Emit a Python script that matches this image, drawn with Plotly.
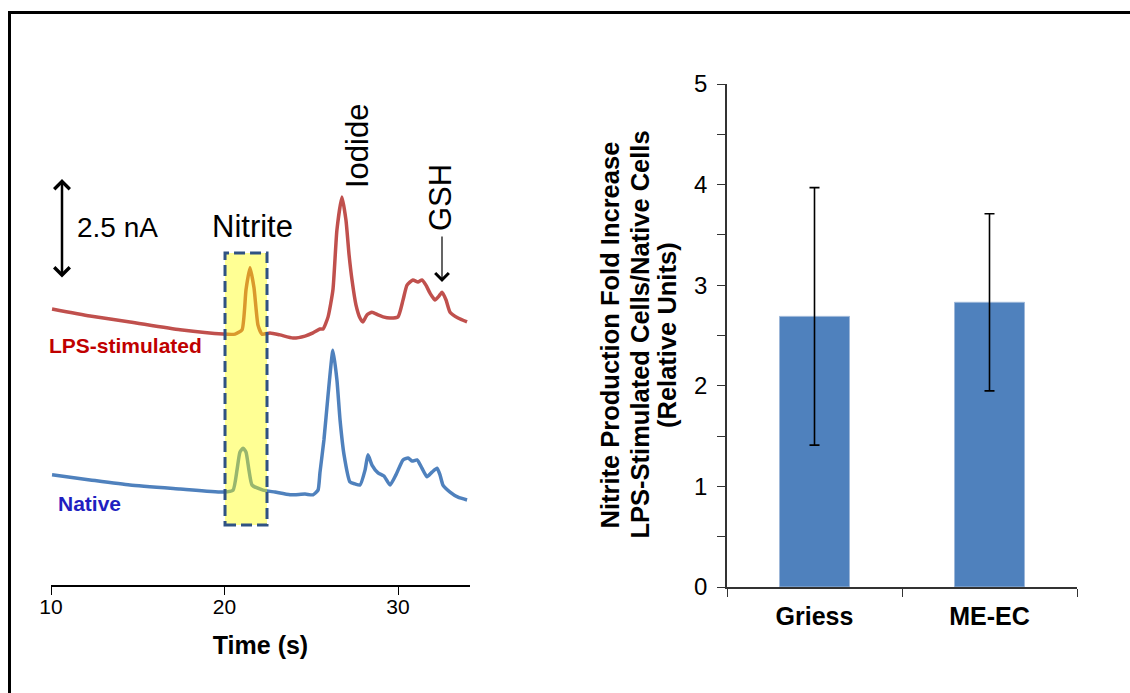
import plotly.graph_objects as go

W, H = 1130, 693

# ---------------- data ----------------
time_lps = [10.06, 12.25, 14.55, 17.44, 19.91, 20.61, 21.01, 21.24, 21.47, 21.70, 21.93, 22.16,
            22.62, 23.20, 23.95, 24.64, 25.10, 25.50, 25.68, 25.97, 26.25, 26.48, 26.77, 27.00,
            27.18, 27.35, 27.58, 27.81, 27.98, 28.21, 28.50, 28.85, 29.14, 29.54, 30.00, 30.29,
            30.52, 30.86, 31.15, 31.38, 31.61, 31.84, 32.13, 32.36, 32.54, 32.77, 33.00, 33.46, 33.98]
current_lps = [7.04, 6.86, 6.71, 6.51, 6.40, 6.40, 6.51, 7.53, 8.09, 7.58, 6.63, 6.40,
               6.43, 6.38, 6.30, 6.35, 6.43, 6.53, 6.53, 6.84, 7.53, 9.06, 9.90, 9.31,
               8.42, 7.78, 7.14, 6.81, 6.71, 6.89, 6.96, 6.89, 6.84, 6.81, 6.84, 7.27,
               7.65, 7.78, 7.73, 7.78, 7.65, 7.45, 7.27, 7.37, 7.47, 7.27, 6.96, 6.81, 6.71]

time_native = [10.06, 12.25, 14.55, 17.44, 19.91, 20.49, 20.72, 20.89, 21.07, 21.24, 21.41, 21.59,
               22.22, 22.91, 23.78, 24.64, 25.10, 25.39, 25.50, 25.73, 25.97, 26.25, 26.48, 26.66,
               26.89, 27.23, 27.52, 27.81, 28.10, 28.27, 28.50, 28.85, 29.19, 29.54, 29.88, 30.29,
               30.58, 30.81, 31.10, 31.38, 31.67, 31.96, 32.25, 32.42, 32.59, 33.00, 33.46, 33.98]
current_native = [2.81, 2.68, 2.55, 2.45, 2.37, 2.42, 2.93, 3.39, 3.49, 3.39, 2.93, 2.55,
                  2.42, 2.37, 2.30, 2.32, 2.30, 2.42, 2.86, 3.70, 4.85, 5.99, 5.23, 4.21,
                  3.32, 2.63, 2.58, 2.55, 2.93, 3.32, 3.06, 2.86, 2.78, 2.55, 2.81, 3.19,
                  3.24, 3.16, 3.19, 2.98, 2.76, 2.88, 2.98, 2.81, 2.55, 2.37, 2.24, 2.17]

nitrite_window = [20.03, 22.45]      # s
nitrite_window_y = [1.53, 8.47]      # nA

time_ticks = [10, 20, 30]

methods = ["Griess", "ME-EC"]
fold_increase = [2.69, 2.83]
fold_error = [1.28, 0.88]

fold_ticks = [0, 0.5, 1, 1.5, 2, 2.5, 3, 3.5, 4, 4.5, 5]
fold_ticktext = ["0", "", "1", "", "2", "", "3", "", "4", "", "5"]

title_lines = ["Nitrite Production Fold Increase",
               "LPS-Stimulated Cells/Native Cells",
               "(Relative Units)"]

# ---------------- helpers (pixel -> paper) ----------------
def px(x):
    return x / W

def py(y):
    return 1 - y / H

FONT = "Liberation Sans, Arial, sans-serif"
RED = "#C0504D"
BLUE = "#4F81BD"

fig = go.Figure()

fig.add_trace(go.Scatter(x=time_lps, y=current_lps, mode="lines",
                         line=dict(color=RED, width=3.5, shape="spline", smoothing=0.5),
                         xaxis="x", yaxis="y", showlegend=False, hoverinfo="skip"))
fig.add_trace(go.Scatter(x=time_native, y=current_native, mode="lines",
                         line=dict(color=BLUE, width=3.5, shape="spline", smoothing=0.5),
                         xaxis="x", yaxis="y", showlegend=False, hoverinfo="skip"))

fig.add_trace(go.Bar(x=methods, y=fold_increase, width=0.4,
                     marker=dict(color=BLUE, line=dict(color="#9DB7D9", width=1)),
                     error_y=dict(type="data", array=fold_error, visible=True,
                                  color="black", thickness=1.6, width=5),
                     xaxis="x2", yaxis="y2", showlegend=False, hoverinfo="skip"))

left_x_dom = [px(51), px(470)]
left_y_dom = [py(585), py(90)]
right_x_dom = [px(727), px(1077)]
right_y_dom = [py(587), py(84)]

fig.update_layout(
    width=W, height=H, autosize=False,
    margin=dict(l=0, r=0, t=0, b=0, pad=0),
    paper_bgcolor="white", plot_bgcolor="rgba(0,0,0,0)",
    font=dict(family=FONT, color="black"),
    xaxis=dict(domain=left_x_dom, range=[10, 10 + (470 - 51) / 17.35], anchor="y",
               tickvals=time_ticks, ticks="outside", ticklen=8, tickwidth=1.3, tickcolor="black",
               showline=True, linecolor="black", linewidth=1.5, showgrid=False, zeroline=False,
               tickfont=dict(size=21, family=FONT), automargin=False, ticklabelstandoff=-6,
               title=dict(text="<b>Time (s)</b>", font=dict(size=25, family=FONT), standoff=20)),
    yaxis=dict(domain=left_y_dom, range=[0, (585 - 90) / 39.2], anchor="x", visible=False),
    xaxis2=dict(domain=right_x_dom, range=[-0.5, 1.5], anchor="y2", type="category",
                tickson="boundaries", ticks="outside", ticklen=8, tickwidth=1.3, tickcolor="#333",
                showline=True, linecolor="#333", linewidth=1.5, showgrid=False, automargin=False,
                tickfont=dict(size=25, family=FONT), ticklabelstandoff=6,
                tickvals=methods, ticktext=["<b>Griess</b>", "<b>ME-EC</b>"]),
    yaxis2=dict(domain=right_y_dom, range=[0, 5], anchor="x2", automargin=False,
                tickvals=fold_ticks, ticktext=fold_ticktext, ticks="outside", ticklen=8,
                tickwidth=1.3, tickcolor="#333", showline=True, linecolor="#333", linewidth=1.5,
                showgrid=False, zeroline=False, tickfont=dict(size=24, family=FONT),
                ticklabelstandoff=5),
)

# nitrite highlight box (translucent, drawn above traces)
fig.add_shape(type="rect", xref="x", yref="y",
              x0=nitrite_window[0], x1=nitrite_window[1],
              y0=nitrite_window_y[0], y1=nitrite_window_y[1],
              fillcolor="rgba(255,255,0,0.42)", layer="above",
              line=dict(color="#2F5283", width=3, dash="11px,5px"))

# frame lines
fig.add_shape(type="line", xref="paper", yref="paper", x0=px(8), x1=1, y0=py(12.5), y1=py(12.5),
              line=dict(color="black", width=3))
fig.add_shape(type="line", xref="paper", yref="paper", x0=px(9.5), x1=px(9.5), y0=py(11), y1=0,
              line=dict(color="black", width=3))

def label(x, y, text, size, color="black", angle=0):
    return dict(xref="paper", yref="paper", x=px(x), y=py(y), text=text, showarrow=False,
                xanchor="center", yanchor="middle", textangle=angle,
                font=dict(size=size, family=FONT, color=color))

ann = []
# scale bar
ann.append(dict(xref="paper", yref="paper", x=px(62), y=py(179), ax=0, ay=100, text="",
                showarrow=True, arrowside="end+start", arrowhead=4, arrowsize=1.2,
                arrowwidth=2.5, arrowcolor="black", standoff=0, startstandoff=0))
ann.append(label(117, 227, "2.5 nA", 28))
ann.append(label(252, 226, "Nitrite", 31))
ann.append(label(357, 146, "Iodide", 31, angle=-90))
ann.append(label(440, 198, "GSH", 31, angle=-90))
ann.append(dict(xref="paper", yref="paper", x=px(442), y=py(282), ax=0, ay=-47, text="",
                showarrow=True, arrowhead=4, arrowsize=2.2, arrowwidth=1.2,
                arrowcolor="black", standoff=0))
ann.append(label(125, 345, "<b>LPS-stimulated</b>", 21, color="#C00000"))
ann.append(label(89, 503, "<b>Native</b>", 21, color="#1F1FC0"))
# right y-axis title, one annotation per line
for xc, line in zip([609.5, 639.5, 667], title_lines):
    ann.append(label(xc, 335, "<b>" + line + "</b>", 25.5, angle=-90))
fig.update_layout(annotations=ann)

fig.write_html("out.html",
               post_script="document.documentElement.style.margin='0';"
                           "document.body.style.margin='0';document.body.style.padding='0';"
                           "document.body.style.overflow='hidden';")
